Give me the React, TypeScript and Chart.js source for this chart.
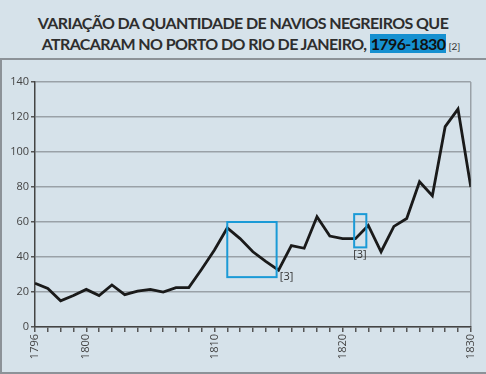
import React, { useEffect, useRef } from "react";
import { Chart, registerables } from "chart.js";

Chart.register(...registerables);

const years = [
  1796, 1797, 1798, 1799, 1800, 1801, 1802, 1803, 1804, 1805, 1806, 1807,
  1808, 1809, 1810, 1811, 1812, 1813, 1814, 1815, 1816, 1817, 1818, 1819,
  1820, 1821, 1822, 1823, 1824, 1825, 1826, 1827, 1828, 1829, 1830,
];
const ships = [
  25, 22, 15, 18, 21.5, 18, 24, 18.5, 20.5, 21.5, 20, 22.5,
  22.5, 33, 44, 56.6, 50.5, 43, 37.5, 32.5, 46.5, 45, 63, 52,
  50.5, 50.5, 58, 43, 57.5, 62, 83, 75, 114.5, 124.5, 80,
];
const labelYears = [1796, 1800, 1810, 1820, 1830];
const yTicks = [0, 20, 40, 60, 80, 100, 120, 140];

// annotation boxes (data coordinates)
const boxXFrom = [1811, 1820.9];
const boxXTo = [1814.85, 1821.85];
const boxYFrom = [28.5, 45.5];
const boxYTo = [60, 64.5];
const noteText = ["[3]", "[3]"];
const noteX = [1815.1, 1821.35];
const noteY = [31.8, 44.3];
const noteAlign: CanvasTextAlign[] = ["left", "center"];

const BG = "#d6e2ea";

const annotPlugin = {
  id: "annot",
  afterDatasetsDraw(chart: any) {
    const { ctx, scales } = chart;
    const x = scales.x;
    const y = scales.y;
    ctx.save();
    ctx.strokeStyle = "#1b9ad6";
    ctx.lineWidth = 2;
    for (let i = 0; i < boxXFrom.length; i++) {
      const x1 = x.getPixelForValue(boxXFrom[i]);
      const x2 = x.getPixelForValue(boxXTo[i]);
      const y1 = y.getPixelForValue(boxYTo[i]);
      const y2 = y.getPixelForValue(boxYFrom[i]);
      ctx.strokeRect(x1, y1, x2 - x1, y2 - y1);
    }
    ctx.fillStyle = "#333";
    ctx.font = "11px 'Open Sans'";
    ctx.textBaseline = "top";
    for (let i = 0; i < noteText.length; i++) {
      ctx.textAlign = noteAlign[i];
      ctx.fillText(noteText[i], x.getPixelForValue(noteX[i]), y.getPixelForValue(noteY[i]));
    }
    ctx.restore();
  },
};

export default function App() {
  const ref = useRef<HTMLCanvasElement | null>(null);
  useEffect(() => {
    if (!ref.current) return;
    const chart = new Chart(ref.current, {
      type: "line",
      data: {
        labels: years,
        datasets: [
          {
            data: years.map((yr, i) => ({ x: yr, y: ships[i] })),
            borderColor: "#1a1a1a",
            borderWidth: 2.8,
            pointRadius: 0,
            tension: 0,
            fill: false,
          },
        ],
      },
      options: {
        animation: false,
        responsive: false,
        devicePixelRatio: 1,
        layout: { padding: { top: 82, right: 14, left: 0, bottom: 0 } },
        plugins: { legend: { display: false }, tooltip: { enabled: false }, title: { display: false } },
        scales: {
          x: {
            type: "linear",
            min: 1796,
            max: 1830,
            afterFit(scale: any) {
              scale.height = 47;
            },
            afterBuildTicks(scale: any) {
              scale.ticks = years.map((v) => ({ value: v }));
            },
            ticks: {
              autoSkip: false,
              maxRotation: 90,
              minRotation: 90,
              padding: 2,
              color: "#444",
              font: { family: "'Open Sans'", size: 11 },
              callback: (v: any) => (labelYears.includes(Number(v)) ? String(v) : ""),
            },
            grid: {
              drawOnChartArea: true,
              color: (c: any) => (c.tick && c.tick.value === 1830 ? "#9aa1a7" : "rgba(0,0,0,0)"),
              lineWidth: 1.5,
              tickColor: "#555",
              tickLength: 5,
            },
            border: { display: true, color: "#444", width: 1.5 },
          },
          y: {
            min: 0,
            max: 140,
            afterFit(scale: any) {
              scale.width = 35;
            },
            afterBuildTicks(scale: any) {
              scale.ticks = yTicks.map((v) => ({ value: v }));
            },
            ticks: {
              padding: 2,
              color: "#444",
              font: { family: "'Open Sans'", size: 11 },
            },
            grid: {
              color: "#9aa1a7",
              lineWidth: 1.5,
              tickColor: "#555",
              tickLength: 4,
            },
            border: { display: true, color: "#444", width: 1.5 },
          },
        },
      },
      plugins: [annotPlugin],
    });
    return () => chart.destroy();
  }, []);

  const titleBase: React.CSSProperties = {
    position: "absolute",
    left: 0,
    width: 486,
    textAlign: "center",
    fontFamily: "Lato, 'Open Sans', sans-serif",
    fontWeight: 700,
    fontSize: 16,
    letterSpacing: "-0.6px",
    lineHeight: "22px",
    color: "#2e2e2e",
    whiteSpace: "nowrap",
  };

  return (
    <div style={{ position: "absolute", left: 0, top: 0, width: 486, height: 374, background: BG, overflow: "hidden" }}>
      <div style={{ ...titleBase, top: 11.5 }}>VARIAÇÃO DA QUANTIDADE DE NAVIOS NEGREIROS QUE</div>
      <div style={{ ...titleBase, top: 33, left: 8 }}>
        ATRACARAM NO PORTO DO RIO DE JANEIRO,{" "}
        <span style={{ background: "#1690d0", color: "#111", padding: "0 1px" }}>1796-1830</span>
        <span style={{ fontWeight: 400, fontSize: 10, marginLeft: 2, letterSpacing: 0, color: "#333" }}>[2]</span>
      </div>
      <div
        style={{
          position: "absolute",
          left: 0,
          top: 58,
          width: 490,
          height: 312,
          borderTop: "2px solid #8c9298",
          borderLeft: "2px solid #8c9298",
          borderBottom: "2px solid #8c9298",
          boxSizing: "content-box",
        }}
      />
      <canvas ref={ref} width={486} height={374} style={{ position: "absolute", left: 0, top: 0, width: 486, height: 374 }} />
    </div>
  );
}
